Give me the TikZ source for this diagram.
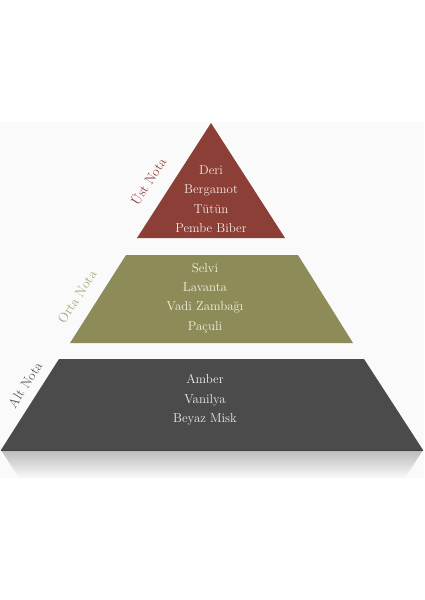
\documentclass[tikz,border=0pt]{standalone}
\usepackage{tikz}
\usepackage{xcolor}
\usetikzlibrary{positioning,calc}
\definecolor{pybg}{HTML}{FAFAFA}
\definecolor{pyred}{HTML}{8B3F37}
\definecolor{pyredt}{HTML}{F4E8E3}
\definecolor{pyolive}{HTML}{8D8B57}
\definecolor{pyolivel}{HTML}{A5A47C}
\definecolor{pyolivet}{HTML}{F2F1E4}
\definecolor{pygrey}{HTML}{4B4B4B}
\definecolor{pygreyl}{HTML}{5A5A5A}
\definecolor{pygreyt}{HTML}{ECECEC}
\tikzset{
  tier/.style     = {draw=none},
  notes/.style    = {align=center, inner sep=0pt,
                     font=\fontsize{11}{16.6}\selectfont},
  tierlbl/.style  = {rotate=57, inner sep=0pt,
                     font=\fontsize{11.5}{13}\selectfont},
}

\begin{document}
\begin{tikzpicture}[x=0.03cm, y=-0.03cm]
  \useasboundingbox (0,0) rectangle (424,600);

  % ---------- backdrop and reflection ----------------------------------
  \fill[pybg] (0,122) rectangle (424,478);
  \shade[top color=black!27, bottom color=pybg]
    (1,450) -- (423,450) -- (405,478) -- (19,478) -- cycle;

  % ---------- tiers (apex x = 212) -------------------------------------
  \fill[tier, pyred]   (211,123) -- (285,238) -- (137,238) -- cycle;
  \fill[tier, pyolive] (126,255) -- (298,255) -- (353,343) -- (70,343) -- cycle;
  \fill[tier, pygrey]  (59,359) -- (364,359) -- (423,450) -- (1,450) -- cycle;
  \draw[black!75, line width=0.6pt] (1,450) -- (423,450);

  % ---------- notes ----------------------------------------------------
  \node[notes, text=pyredt] (ust) at (211,199)
    {Deri\\ Bergamot\\ Tütün\\ Pembe Biber};
  \node[notes, text=pyolivet] (orta) at (205,298)
    {Selvi\\ Lavanta\\ Vadi Zambağı\\ Paçuli};
  \node[notes, text=pygreyt] (alt) at (205,400)
    {Amber\\ Vanilya\\ Beyaz Misk};

  % ---------- tier labels along the left edges -------------------------
  \node[tierlbl, text=pyred]    (ustlbl)  at (148,181) {Üst Nota};
  \node[tierlbl, text=pyolivel] (ortalbl) at (77,297)  {Orta Nota};
  \node[tierlbl, text=pygreyl]  (altlbl)  at (25,385)  {Alt Nota};

\end{tikzpicture}
\end{document}
